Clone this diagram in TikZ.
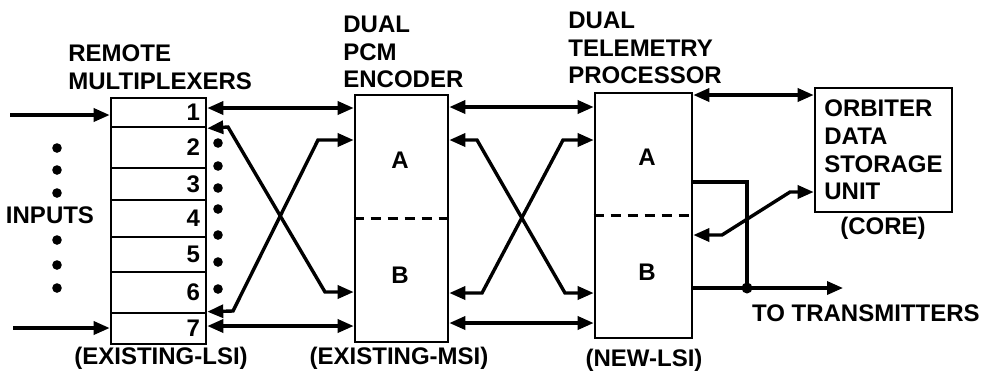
\documentclass[tikz,border=0pt]{standalone}
\usepackage{fontspec}
\setmainfont{Liberation Sans}
\usetikzlibrary{arrows.meta}
\begin{document}
\begin{tikzpicture}[x=0.5pt,y=-0.5pt,
  every node/.style={font=\fontsize{12}{13.9}\selectfont\bfseries},
  box/.style={draw, line width=1.3pt, inner sep=0pt},
  rowbox/.style={box, minimum width=47.5pt, text width=41.5pt, align=right, inner xsep=3pt},
  conn/.style={line width=1.7pt},
  dbl/.style={conn, {Triangle[length=8pt,width=6.5pt]}-{Triangle[length=8pt,width=6.5pt]}},
  sgl/.style={conn, -{Triangle[length=8pt,width=6.5pt]}},
  dot/.style={circle, fill, inner sep=0pt, minimum size=4.8pt},
  lbl/.style={align=left, inner sep=0pt},
]
\useasboundingbox (0,0) rectangle (988,377);

% remote multiplexers
\node[rowbox, minimum height=14.5pt] (r1) at (158.5,112.5) {1};
\node[rowbox, minimum height=20.5pt] (r2) at (158.5,147.5) {2};
\node[rowbox, minimum height=16pt]   (r3) at (158.5,184) {3};
\node[rowbox, minimum height=18.5pt] (r4) at (158.5,218.5) {4};
\node[rowbox, minimum height=17.5pt] (r5) at (158.5,254.5) {5};
\node[rowbox, minimum height=20.5pt] (r6) at (158.5,292.5) {6};
\node[rowbox, minimum height=15.5pt] (r7) at (158.5,328.5) {7};

% PCM encoder
\node[box, minimum width=46.5pt, minimum height=123.5pt] (enc) at (401.5,218.5) {};
\draw[line width=1.1pt, dash pattern=on 5pt off 3.5pt] (enc.west) -- (enc.east);
\node (encA) at (400,160) {A};
\node (encB) at (400,275) {B};

% telemetry processor
\node[box, minimum width=48.5pt, minimum height=122.5pt] (tp) at (643.5,215.5) {};
\draw[line width=1.1pt, dash pattern=on 5pt off 3.5pt] (tp.west) -- (tp.east);
\node (tpA) at (647,157) {A};
\node (tpB) at (647,272) {B};

% orbiter data storage unit
\node[box, minimum width=68.5pt, minimum height=62pt, align=left] (odsu) at (883.5,150) {ORBITER\\DATA\\STORAGE\\UNIT};

% labels
\node[lbl, anchor=west] (lmux) at (68,67) {REMOTE\\MULTIPLEXERS};
\node[lbl, anchor=west] (lenc) at (343,52) {DUAL\\PCM\\ENCODER};
\node[lbl, anchor=west] (ltp) at (568,48) {DUAL\\TELEMETRY\\PROCESSOR};
\node (lmuxb) at (161,358) {(EXISTING-LSI)};
\node (lencb) at (399,358) {(EXISTING-MSI)};
\node (ltpb) at (644,360) {(NEW-LSI)};
\node (lcore) at (883,228) {(CORE)};
\node (linputs) at (50,215) {INPUTS};
\node[anchor=west] (ltx) at (745,313) {TO TRANSMITTERS};

% dots
\foreach \y [count=\i] in {148,170,193,240,265,288} \node[dot] (ld\i) at (57,\y) {};
\foreach \y [count=\i] in {143,166,188,209,235,262,289} \node[dot] (rd\i) at (218,\y) {};

% inputs
\coordinate (in1) at (10,115);
\coordinate (in2) at (13,328);
\draw[sgl] (in1) -- (in1 -| r1.west);
\draw[sgl] (in2) -- (in2 -| r7.west);

% mux <-> encoder
\draw[dbl] (r1.east |- 0,108) -- (enc.west |- 0,108);
\draw[dbl] (r7.east |- 0,326) -- (enc.west |- 0,326);
\draw[dbl] (r1.south east) -- (228,127) -- (325,292) -- (enc.west |- 0,292);
\draw[dbl] (r7.north east) -- (233,311) -- (318,140) -- (enc.west |- 0,140);

% encoder <-> processor
\draw[dbl] (enc.east |- 0,107) -- (tp.west |- 0,107);
\draw[dbl] (enc.east |- 0,323) -- (tp.west |- 0,323);
\draw[dbl] (enc.east |- 0,140) -- (477,140) -- (565,293) -- (tp.west |- 0,293);
\draw[dbl] (enc.east |- 0,293) -- (482,293) -- (563,140) -- (tp.west |- 0,140);

% processor <-> storage, transmitters
\draw[dbl] (tp.east |- 0,95) -- (odsu.west |- 0,95);
\draw[dbl] (odsu.west |- 0,192) -- (790,192) -- (722,235) -- (tp.east |- 0,235);
\node[dot, minimum size=5.5pt] (jn) at (747,288) {};
\coordinate (txend) at (843,288);
\draw[conn] (tp.east |- 0,182) -| (jn.center);
\draw[sgl] (tp.east |- 0,288) -- (txend);
\end{tikzpicture}
\end{document}
